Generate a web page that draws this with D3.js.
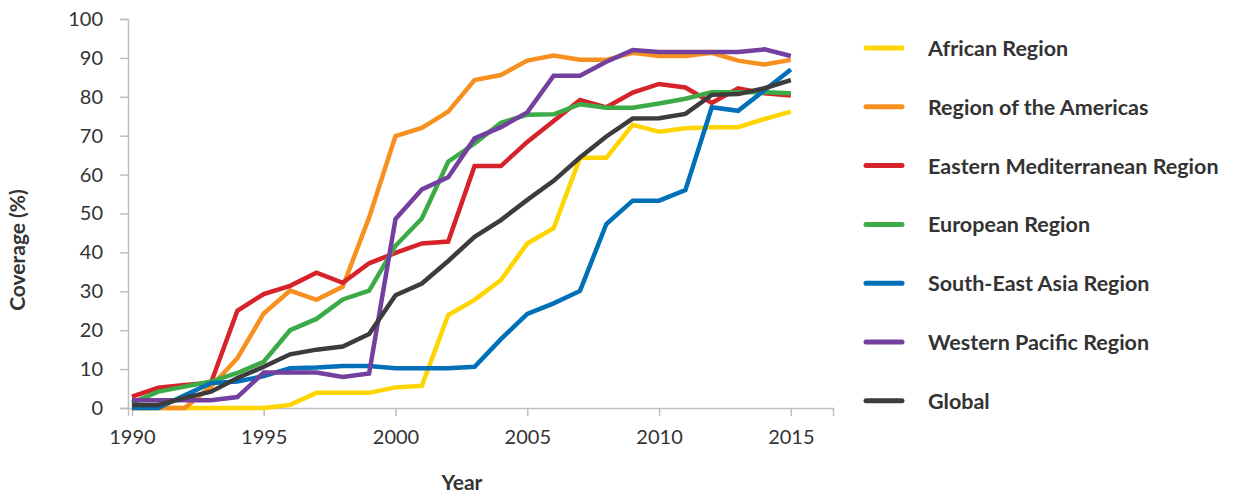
<!DOCTYPE html>
<html>
<head>
<meta charset="utf-8">
<script src="https://cdn.jsdelivr.net/npm/d3@7"></script>
<style>
html,body{margin:0;padding:0;background:#fff;}
svg{display:block;}
text{font-family:"Lato","Open Sans",sans-serif;}
</style>
</head>
<body>
<svg id="chart" width="1258" height="494"></svg>
<script>
const years = d3.range(1990, 2016);
const seriesNames = ["African Region","Region of the Americas","Eastern Mediterranean Region","European Region","South-East Asia Region","Western Pacific Region","Global"];
const seriesColors = ["#FFD500","#F7901E","#D6232A","#3DAA48","#0070B8","#7340A0","#3C3C3C"];
const african   = [0,0,0,0,0,0,0.8,3.9,3.9,3.9,5.3,5.7,23.9,27.8,32.9,42.3,46.2,64.3,64.3,72.8,71,71.9,72.2,72.2,74.3,76.2];
const americas  = [0,0,0,5.5,12.8,24.3,30.2,27.8,31.2,49,69.9,72,76.2,84.3,85.6,89.3,90.6,89.5,89.5,91.3,90.5,90.5,91.3,89.3,88.3,89.5];
const eastMed   = [2.9,5.2,5.9,6.5,25,29.3,31.4,34.8,32.2,37.2,39.9,42.3,42.8,62.2,62.2,68.4,73.8,79.2,77.3,81.1,83.3,82.4,78.4,82.2,80.9,80.3];
const europe    = [1.3,4.2,5.5,6.8,9,11.9,20,22.9,27.9,30.2,41.7,48.7,63.3,68,73.3,75.4,75.5,78.1,77.2,77.2,78.3,79.5,81.2,81.2,81.2,80.9];
const seAsia    = [0,0,3.3,6.4,6.8,8.2,10.2,10.4,10.8,10.8,10.2,10.2,10.2,10.6,17.7,24.2,26.9,30.1,47.3,53.3,53.3,56,77.3,76.4,81.7,87];
const westPac   = [2,2,2,2,2.8,9.1,9.1,9.1,8,8.9,48.6,56.2,59.3,69.3,72.2,76,85.4,85.4,89,92,91.5,91.5,91.5,91.5,92.2,90.5];
const global    = [0.8,0.8,2.6,4.2,7.7,10.6,13.8,15,15.8,19,29,32,37.8,44,48.3,53.5,58.4,64.4,69.8,74.4,74.5,75.6,80.5,80.7,82.2,84.3];
const yTicks = [0,10,20,30,40,50,60,70,80,90,100];
const xTicks = [1990,1995,2000,2005,2010,2015];
const allSeries = [african, americas, eastMed, europe, seAsia, westPac, global];

const svg = d3.select("#chart");
const x = d3.scaleLinear().domain([1989.85, 2016.6]).range([128, 833]);
const y = d3.scaleLinear().domain([0, 100]).range([408, 19]);
const axisColor = "#BFBFBF";

const yAxis = svg.append("g").attr("transform", "translate(128,0)")
  .call(d3.axisLeft(y).tickValues(yTicks).tickSize(8).tickPadding(17));
const xAxis = svg.append("g").attr("transform", "translate(0,408)")
  .call(d3.axisBottom(x).tickValues(xTicks).tickFormat(d3.format("d")).tickSize(8).tickPadding(14));
[yAxis, xAxis].forEach(a => {
  a.select(".domain").attr("stroke", axisColor).attr("stroke-width", 1.5);
  a.selectAll(".tick line").attr("stroke", axisColor).attr("stroke-width", 1.5);
  a.selectAll(".tick text").attr("fill", "#333").style("font-size", "20px").style("font-family", "Lato, 'Open Sans', sans-serif");
});

const line = d3.line().x((d, i) => x(years[i])).y(d => y(d));
allSeries.forEach((s, i) => {
  svg.append("path").datum(s)
    .attr("fill", "none")
    .attr("stroke", seriesColors[i])
    .attr("stroke-width", 4.5)
    .attr("stroke-linejoin", "miter")
    .attr("d", line);
});

svg.append("text").attr("x", 462).attr("y", 490).attr("text-anchor", "middle")
  .style("font-size", "21px").style("font-weight", "700").attr("fill", "#333").text("Year");
svg.append("text").attr("transform", "translate(25,250) rotate(-90)").attr("text-anchor", "middle")
  .style("font-size", "21px").style("font-weight", "700").attr("fill", "#333").text("Coverage (%)");

const legend = svg.append("g");
seriesNames.forEach((n, i) => {
  const ly = 48 + i * 58.8;
  legend.append("line").attr("x1", 866).attr("x2", 902).attr("y1", ly).attr("y2", ly)
    .attr("stroke", seriesColors[i]).attr("stroke-width", 5).attr("stroke-linecap", "round");
  legend.append("text").attr("x", 928).attr("y", ly + 8)
    .style("font-size", "21.5px").style("font-weight", "700").attr("fill", "#333").text(n);
});
</script>
</body>
</html>
